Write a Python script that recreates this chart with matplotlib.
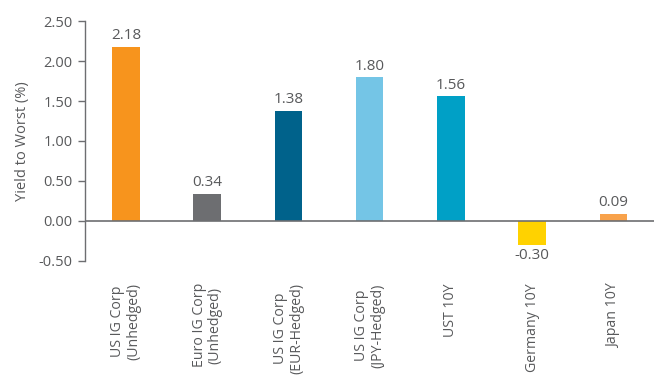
import matplotlib.pyplot as plt

# Datos del gráfico
categorias = ['US IG Corp\n(Unhedged)', 'Euro IG Corp\n(Unhedged)', 'US IG Corp\n(EUR-Hedged)',
              'US IG Corp\n(JPY-Hedged)', 'UST 10Y', 'Germany 10Y', 'Japan 10Y']
valores = [2.18, 0.34, 1.38, 1.80, 1.56, -0.30, 0.09]
colores = ['#F7941D', '#6D6E71', '#00628B', '#74C5E6', '#00A0C6', '#FFD200', '#F8A24B']

plt.rcParams['font.family'] = ['Open Sans', 'DejaVu Sans']
gris = '#58595B'

fig = plt.figure(figsize=(6.66, 3.90), dpi=100)
ax = fig.add_axes([0.128, 0.331, 0.854, 0.615])

x = range(len(valores))
barras = ax.bar(x, valores, width=0.34, color=colores, zorder=2)

# Etiquetas de valor
for xi, v in zip(x, valores):
    if v >= 0:
        ax.annotate(f'{v:.2f}', (xi, v), xytext=(0, 2.5), textcoords='offset points',
                    ha='center', va='bottom', fontsize=11, color=gris)
    else:
        ax.annotate(f'{v:.2f}', (xi, v), xytext=(0, -2), textcoords='offset points',
                    ha='center', va='top', fontsize=11, color=gris)

ax.set_xlim(-0.5, len(valores) - 0.5)
ax.set_ylim(-0.5, 2.5)
ax.set_yticks([-0.5, 0, 0.5, 1.0, 1.5, 2.0, 2.5])
ax.set_yticklabels([f'{t:.2f}' for t in ax.get_yticks()])
ax.tick_params(axis='y', direction='out', length=5, width=1, colors='#6D6E71',
               labelcolor=gris, labelsize=10.5, pad=4)

ax.set_xticks(list(x))
ax.set_xticklabels(categorias, rotation=90, ha='center', va='top', multialignment='center',
                   fontsize=10.2, color=gris, linespacing=1.1)
ax.tick_params(axis='x', length=0, pad=16)

ax.axhline(0, color='#6D6E71', linewidth=1.2, zorder=3)
for lado in ['top', 'right', 'bottom']:
    ax.spines[lado].set_visible(False)
ax.spines['left'].set_color('#6D6E71')
ax.spines['left'].set_linewidth(1)

ax.set_ylabel('Yield to Worst (%)', fontsize=10.5, color=gris, labelpad=6)

plt.savefig('out.png', dpi=100)
